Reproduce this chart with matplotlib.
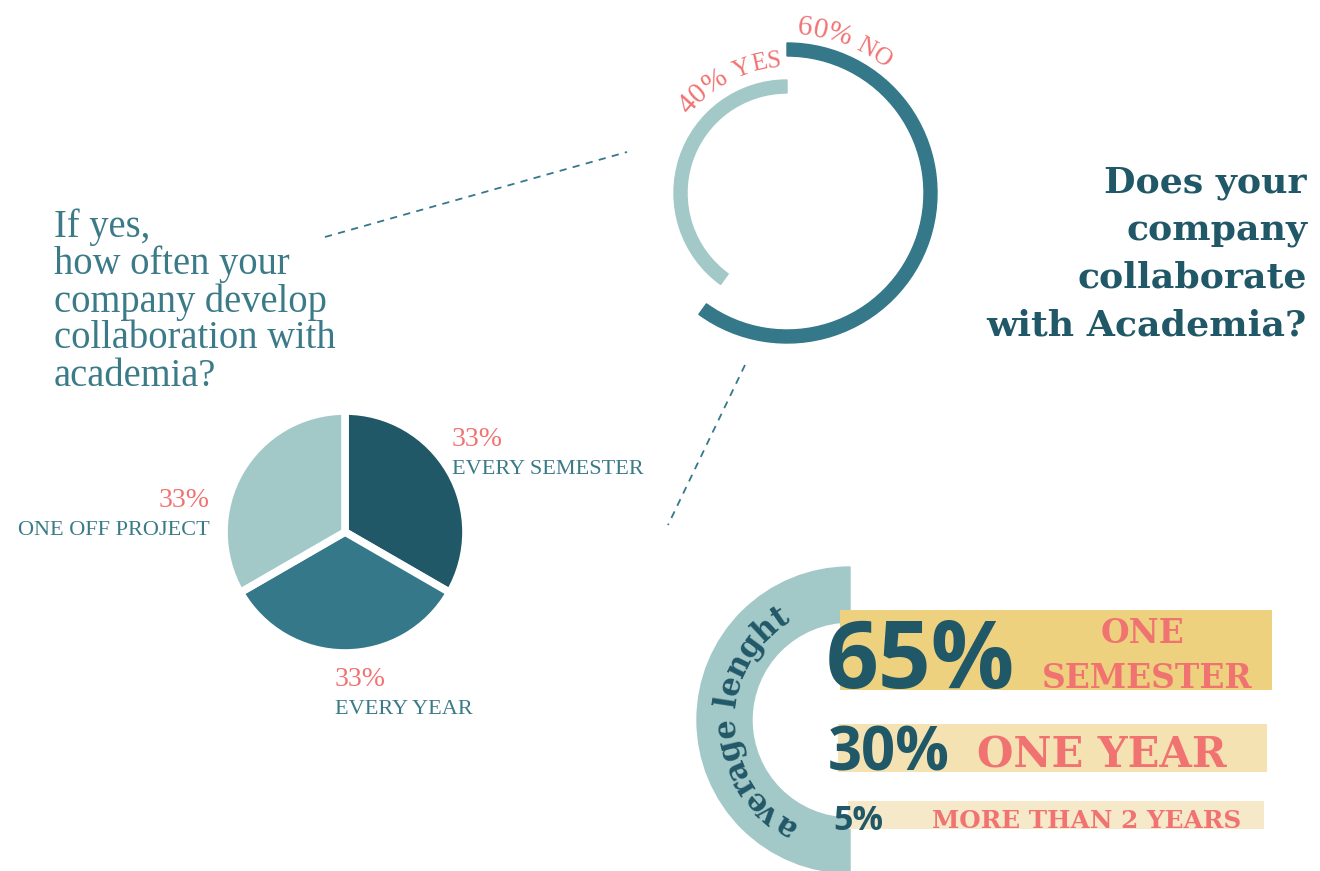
import numpy as np
import matplotlib
matplotlib.use('Agg')
import matplotlib.pyplot as plt
from matplotlib.patches import Wedge
from matplotlib.font_manager import FontProperties, findfont, get_font

# Does your company collaborate with academia?
collab_labels = ['40% YES', '60% NO']
collab_share = [40, 60]            # yes, no

# If yes, how often
freq_labels = ['EVERY SEMESTER', 'EVERY YEAR', 'ONE OFF PROJECT']
freq_share = [33, 33, 33]

# Average length of a collaboration
length_share = [65, 30, 5]
length_labels = ['ONE\nSEMESTER', 'ONE YEAR', 'MORE THAN 2 YEARS']

DARK = '#215867'
MID = '#34788a'
LIGHT = '#a3c8c8'
PINK = '#f07372'
TEXT_TEAL = '#3b7b88'
BAR_COLORS = ['#edd17e', '#f4e2b3', '#f5e9ca']

LIGHT_SERIF = 'Liberation Serif'
BOLD_SERIF = 'DejaVu Serif'
BOLD_SANS = 'Open Sans'

W, H = 1320, 871
DPI = 100


def advance(c, family, size_pt, weight='normal'):
    # unhinted advance width of one glyph, in pixels
    font = get_font(findfont(FontProperties(family=family, weight=weight)))
    font.set_size(size_pt, DPI)
    return font.load_char(ord(c)).linearHoriAdvance / 65536


def str_width(s, family, size_pt, weight='normal'):
    return sum(advance(c, family, size_pt, weight) for c in s)


def fit_size(s, target_px, family, weight='normal'):
    return 20 * target_px / str_width(s, family, 20, weight)


def arc_text(ax, s, center, r, mid_deg, family, size_pt, color, weight='normal',
             caps_size=None, tracking=1.0):
    # lay the string along a circle, reading clockwise, tops facing outward;
    # caps_size draws capital letters smaller (small caps look)
    sizes = [caps_size if (caps_size and c.isalpha()) else size_pt for c in s]
    advs = [tracking * advance(c, family, sz, weight) for c, sz in zip(s, sizes)]
    start = np.radians(mid_deg) + sum(advs) / 2 / r
    pos = 0
    for c, a, sz in zip(s, advs, sizes):
        th = start - (pos + a / 2) / r
        ax.text(center[0] + r * np.cos(th), center[1] + r * np.sin(th), c,
                rotation=np.degrees(th) - 90, rotation_mode='anchor',
                ha='center', va='baseline', family=family, weight=weight,
                fontsize=sz, color=color, zorder=5)
        pos += a


fig = plt.figure(figsize=(W / DPI, H / DPI), dpi=DPI, facecolor='white')
ax = fig.add_axes([0, 0, 1, 1])

# --- yes / no ring ---
ring_c = (787, H - 193)
yes_span = 360 * collab_share[0] / 100
no_span = 360 * collab_share[1] / 100
ax.add_patch(Wedge(ring_c, 113, 90, 90 + yes_span, width=13, color=LIGHT))
ax.add_patch(Wedge(ring_c, 150, 90 - no_span, 90, width=13, color=MID))
arc_text(ax, collab_labels[0], ring_c, 126, 117, LIGHT_SERIF, 21, PINK, caps_size=18)
arc_text(ax, collab_labels[1], ring_c, 159, 69, LIGHT_SERIF, 21, PINK, caps_size=18)

# dashed leaders
ax.plot([325, 627], [H - 237, H - 152], ls=(0, (4, 3.5)), lw=1.3, color=MID)
ax.plot([745, 668], [H - 365, H - 525], ls=(0, (4, 3.5)), lw=1.3, color=MID)

# --- frequency pie ---
ax.pie(freq_share, colors=[DARK, MID, LIGHT], startangle=90, counterclock=False,
       center=(345, H - 532), radius=121, frame=True,
       wedgeprops=dict(edgecolor='white', linewidth=5.5))

pct_size = 20
lab_size = fit_size(freq_labels[0], 193, LIGHT_SERIF)
pct_text = ['%d%%' % v for v in freq_share]
ax.text(452, H - 446, pct_text[0], ha='left', va='baseline', family=LIGHT_SERIF,
        fontsize=pct_size, color=PINK)
ax.text(452, H - 474, freq_labels[0], ha='left', va='baseline', family=LIGHT_SERIF,
        fontsize=lab_size, color=TEXT_TEAL)
ax.text(335, H - 686, pct_text[1], ha='left', va='baseline', family=LIGHT_SERIF,
        fontsize=pct_size, color=PINK)
ax.text(335, H - 714, freq_labels[1], ha='left', va='baseline', family=LIGHT_SERIF,
        fontsize=lab_size, color=TEXT_TEAL)
ax.text(210, H - 507, pct_text[2], ha='right', va='baseline', family=LIGHT_SERIF,
        fontsize=pct_size, color=PINK)
ax.text(210, H - 535, freq_labels[2], ha='right', va='baseline', family=LIGHT_SERIF,
        fontsize=lab_size, color=TEXT_TEAL)

# question
question = ['If yes,', 'how often your', 'company develop', 'collaboration with', 'academia?']
q_size = fit_size('collaboration with', 281, LIGHT_SERIF)
for line, base in zip(question, [237, 274, 312, 348, 386]):
    ax.text(54, H - base, line, ha='left', va='baseline', family=LIGHT_SERIF,
            fontsize=q_size, color=TEXT_TEAL)

# title
title = ['Does your', 'company', 'collaborate', 'with Academia?']
t_size = fit_size('with Academia?', 319, BOLD_SERIF, 'bold')
for line, base in zip(title, [192, 240, 288, 335]):
    ax.text(1307, H - base, line, ha='right', va='baseline', family=BOLD_SERIF,
            weight='bold', fontsize=t_size, color=DARK)

# --- average length ---
len_c = (850, H - 720)
ax.add_patch(Wedge(len_c, 153, 90, 270, width=55, color=LIGHT))
arc_text(ax, 'average lenght', len_c, 115, 182, BOLD_SERIF, 22, DARK, 'bold',
         tracking=0.96)

bar_left = np.array([840, 838, 848])
bar_right = np.array([1272, 1267, 1264])
bar_top = np.array([610, 724, 801])
bar_bottom = np.array([690, 772, 829])
ax.barh(H - (bar_top + bar_bottom) / 2, bar_right - bar_left, left=bar_left,
        height=bar_bottom - bar_top, color=BAR_COLORS, zorder=2)

len_pct = ['%d%%' % v for v in length_share]
pct_x = [826, 828, 833]
pct_base = [688, 770, 830]
pct_w = [189, 122, 50]
for s, x, b, w in zip(len_pct, pct_x, pct_base, pct_w):
    ax.text(x, H - b, s, ha='left', va='baseline', family=BOLD_SANS, weight='bold',
            fontsize=fit_size(s, w, BOLD_SANS, 'bold'), color=DARK, zorder=4)

sem_top, sem_bottom = length_labels[0].split('\n')
sem_size = fit_size(sem_bottom, 211, BOLD_SERIF, 'bold')
ax.text(1142, H - 643, sem_top, ha='center', va='baseline', family=BOLD_SERIF,
        weight='bold', fontsize=sem_size, color=PINK, zorder=4)
ax.text(1147, H - 688, sem_bottom, ha='center', va='baseline', family=BOLD_SERIF,
        weight='bold', fontsize=sem_size, color=PINK, zorder=4)
ax.text(977, H - 767, length_labels[1], ha='left', va='baseline', family=BOLD_SERIF,
        weight='bold', fontsize=fit_size(length_labels[1], 249, BOLD_SERIF, 'bold'),
        color=PINK, zorder=4)
ax.text(932, H - 828, length_labels[2], ha='left', va='baseline', family=BOLD_SERIF,
        weight='bold', fontsize=fit_size(length_labels[2], 309, BOLD_SERIF, 'bold'),
        color=PINK, zorder=4)

ax.set_xlim(0, W)
ax.set_ylim(0, H)
ax.set_aspect('auto')
ax.axis('off')

fig.savefig('out.png', dpi=DPI, facecolor='white')
